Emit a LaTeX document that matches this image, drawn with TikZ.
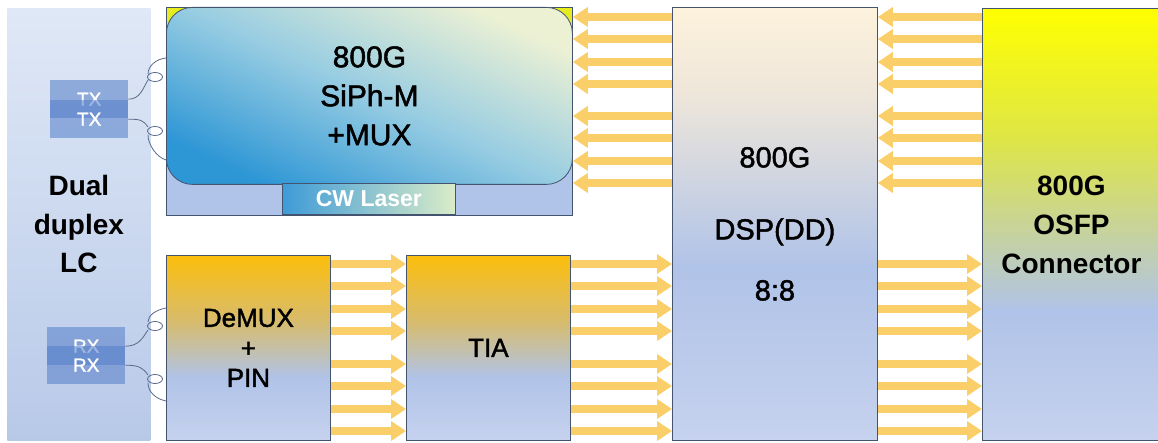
\documentclass[tikz,border=0pt]{standalone}
\usepackage{fontspec}
\setmainfont{Liberation Sans}
\newfontfamily\medfont{Liberation Sans}[FakeBold=1.6]
\usetikzlibrary{arrows.meta}

\definecolor{edgecol}{RGB}{68,84,110}
\definecolor{lctop}{RGB}{223,232,246}
\definecolor{lcbot}{RGB}{184,201,232}
\definecolor{portcol}{RGB}{85,127,201}
\definecolor{fibercol}{RGB}{90,105,135}
\definecolor{lav}{RGB}{176,195,232}
\definecolor{lavlight}{RGB}{198,210,238}
\definecolor{panelyellow}{RGB}{232,238,25}
\definecolor{siplight}{RGB}{236,241,212}
\definecolor{sipmid}{RGB}{150,204,226}
\definecolor{sipblue}{RGB}{45,150,213}
\definecolor{laserblue}{RGB}{62,155,215}
\definecolor{laserlight}{RGB}{218,236,200}
\definecolor{sigcol}{RGB}{250,207,105}
\definecolor{dspcream}{RGB}{253,242,220}
\definecolor{dsptan}{RGB}{238,230,218}
\definecolor{osfpyellow}{RGB}{255,255,0}
\definecolor{osfplime}{RGB}{222,230,70}
\definecolor{osfpgreen}{RGB}{200,212,150}
\definecolor{rxgold}{RGB}{252,190,12}
\definecolor{rxtan}{RGB}{215,188,110}

\pgfdeclareverticalshading{dspshade}{100bp}{color(0bp)=(lavlight); color(25bp)=(lavlight); color(45bp)=(lav); color(65bp)=(dsptan); color(75bp)=(dspcream); color(100bp)=(dspcream)}
\pgfdeclareverticalshading{osfpshade}{100bp}{color(0bp)=(lavlight); color(25bp)=(lavlight); color(40bp)=(lav); color(50bp)=(osfpgreen); color(60bp)=(osfplime); color(75bp)=(osfpyellow); color(100bp)=(osfpyellow)}
\pgfdeclareverticalshading{rxshade}{100bp}{color(0bp)=(lavlight); color(25bp)=(lavlight); color(42bp)=(lav); color(57bp)=(rxtan); color(75bp)=(rxgold); color(100bp)=(rxgold)}

\begin{document}
\begin{tikzpicture}[x=1pt,y=-1pt,
  block/.style={draw=edgecol,line width=0.8pt,inner sep=0pt,anchor=north west,align=center},
  port/.style={fill=portcol,fill opacity=0.56,text opacity=1,text=white,inner sep=0pt,anchor=north west,minimum width=78,minimum height=38,font=\medfont\fontsize{19}{19}\selectfont},
  fiber/.style={draw=fibercol,line width=0.8pt},
  sig/.style={draw=sigcol,line width=7.5,-{Triangle[length=15pt,width=19pt]}}]
  \useasboundingbox (0,0) rectangle (1158,443);

  % fibre side
  \node[block,draw=none,top color=lctop,bottom color=lcbot,minimum width=143,minimum height=432,font=\bfseries\fontsize{28}{38.5}\selectfont] (lc) at (7,8) {Dual\\duplex\\LC};
  \node[port] (tx1) at (50,80) {TX};
  \node[port] (tx2) at (50,100) {TX};
  \node[port] (rx1) at (47,327) {RX};
  \node[port] (rx2) at (47,346) {RX};

  % transmit path
  \node[block,top color=panelyellow,bottom color=lav,middle color=lav,minimum width=406,minimum height=208] (txpanel) at (166,7) {};
  \node[block,rounded corners=26,top color=siplight,bottom color=sipblue,middle color=sipmid,shading angle=-25,minimum width=406,minimum height=177,font=\medfont\fontsize{30}{39}\selectfont] (siph) at (166,7) {800G\\SiPh-M\\+MUX};
  \node[block,left color=laserblue,right color=laserlight,minimum width=173,minimum height=31,text=white,font=\bfseries\fontsize{23}{23}\selectfont] (laser) at (282,183) {CW Laser};

  % receive path
  \node[block,shade,shading=rxshade,minimum width=164,minimum height=185,font=\medfont\fontsize{26}{30}\selectfont] (demux) at (166,255) {DeMUX\\+\\PIN};
  \node[block,shade,shading=rxshade,minimum width=164,minimum height=185,font=\medfont\fontsize{26}{30}\selectfont] (tia) at (406,255) {TIA};

  \node[block,shade,shading=dspshade,minimum width=205,minimum height=433,font=\medfont\fontsize{29}{35}\selectfont] (dsp) at (672,7) {800G\\[37pt]DSP(DD)\\[26pt]8:8};
  \node[block,shade,shading=osfpshade,minimum width=178,minimum height=432,font=\bfseries\fontsize{28}{39}\selectfont] (osfp) at (982,8) {800G\\OSFP\\Connector};

  % fibres with a loop
  \draw[fiber] (tx1.east) .. controls +(12,0) and (143,88) .. (148,80)
    (155,77) ellipse [x radius=7.5,y radius=4.5]
    (148,74) .. controls (148,66) and (156,59) .. (siph.west |- 0,58);
  \draw[fiber] (tx2.east) .. controls +(12,0) and (143,120) .. (148,127)
    (155,131) ellipse [x radius=7.5,y radius=4.5]
    (148,135) .. controls (148,144) and (156,157) .. (siph.west |- 0,160);
  \draw[fiber] (rx1.east) .. controls +(14,0) and (143,337) .. (148,330)
    (155,326) ellipse [x radius=7.5,y radius=4.5]
    (148,322) .. controls (148,315) and (156,310) .. (demux.west |- 0,308);
  \draw[fiber] (rx2.east) .. controls +(14,0) and (143,368) .. (148,375)
    (155,379) ellipse [x radius=7.5,y radius=4.5]
    (148,383) .. controls (148,392) and (156,399) .. (demux.west |- 0,401);

  % lanes
  \foreach \y in {17,39,62,84,116,138,161,183} {
    \draw[sig] (dsp.west |- 0,\y) -- (txpanel.east |- 0,\y);
    \draw[sig] (osfp.west |- 0,\y) -- (dsp.east |- 0,\y);
  }
  \foreach \y in {264,286,309,331,364,386,409,431} {
    \draw[sig] (demux.east |- 0,\y) -- (tia.west |- 0,\y);
    \draw[sig] (tia.east |- 0,\y) -- (dsp.west |- 0,\y);
    \draw[sig] (dsp.east |- 0,\y) -- (osfp.west |- 0,\y);
  }
\end{tikzpicture}
\end{document}
